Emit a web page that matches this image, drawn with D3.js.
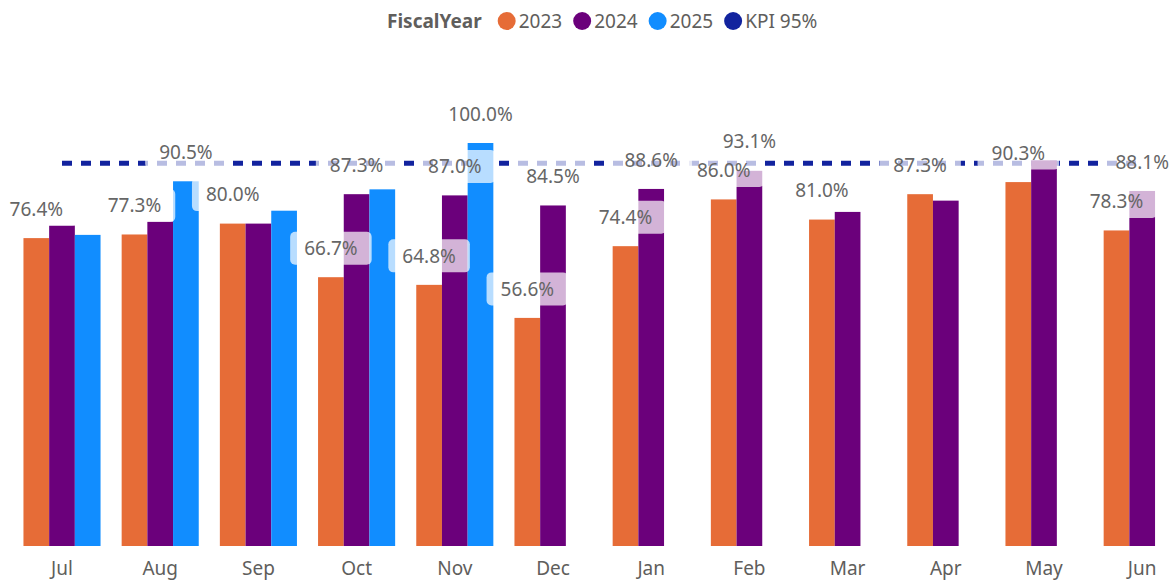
<!DOCTYPE html>
<html>
<head>
<meta charset="utf-8">
<script src="https://cdn.jsdelivr.net/npm/d3@7/dist/d3.min.js"></script>
<style>
    body { margin: 0; background: #fff; }
    text { font-family: "Noto Sans", "Open Sans", sans-serif; }
</style>
</head>
<body>
<div id="chart"></div>
<script>
// Compliance by month, clustered per fiscal year

var months = ["Jul", "Aug", "Sep", "Oct", "Nov", "Dec", "Jan", "Feb", "Mar", "Apr", "May", "Jun"];
var years = ["2023", "2024", "2025"];

var values2023 = [76.4, 77.3, 80.0, 66.7, 64.8, 56.6, 74.4, 86.0, 81.0, 87.3, 90.3, 78.3];
var values2024 = [79.5, 80.5, 80.0, 87.3, 87.0, 84.5, 88.6, 93.1, 82.9, 85.7, 95.7, 88.1];
var values2025 = [77.2, 90.5, 83.2, 88.5, 100.0, null, null, null, null, null, null, null];

var kpiValue = 95;

// data labels that survive Power BI's overlap hiding
var labelled2023 = months.slice();
var labelled2024 = ["Oct", "Nov", "Dec", "Jan", "Feb", "Jun"];
var labelled2025 = ["Aug", "Nov"];

var legendTitle = "FiscalYear";
var legendNames = ["2023", "2024", "2025", "KPI 95%"];
var legendColors = ["#E66C37", "#6B007B", "#118DFF", "#12239E"];

var width = 1173, height = 584;

var svg = d3.select("#chart").append("svg")
    .attr("width", width)
    .attr("height", height);

var seriesValues = [values2023, values2024, values2025];
var seriesLabels = [labelled2023, labelled2024, labelled2025];

var bars = [];
years.forEach(function(y, si) {
    months.forEach(function(m, mi) {
        var v = seriesValues[si][mi];
        if (v === null) return;
        bars.push({month: m, year: y, value: v, color: legendColors[si],
                   labelled: seriesLabels[si].indexOf(m) >= 0});
    });
});

// scales
var x = d3.scaleBand()
    .domain(months)
    .range([12.9, 1191.3])
    .paddingInner(0.215)
    .paddingOuter(0.1075);

var xSub = d3.scaleBand()
    .domain(years)
    .range([0, x.bandwidth()]);

var y = d3.scaleLinear()
    .domain([0, 100])
    .range([546, 143]);

// x axis
var xAxis = svg.append("g")
    .attr("transform", "translate(0,546)")
    .call(d3.axisBottom(x).tickSize(0).tickPadding(16));
xAxis.select(".domain").remove();
xAxis.selectAll("text")
    .style("font-family", "Noto Sans, sans-serif")
    .style("font-size", "19px")
    .attr("fill", "#605E5C");

// KPI line, category centre to category centre
var kpiLine = d3.line()
    .x(function(d) { return x(d) + x.bandwidth() / 2; })
    .y(function() { return y(kpiValue); });

svg.append("path")
    .datum(months)
    .attr("d", kpiLine)
    .attr("fill", "none")
    .attr("stroke", legendColors[3])
    .attr("stroke-width", 5)
    .attr("stroke-dasharray", "10,9");

// columns
svg.append("g").selectAll("rect")
    .data(bars)
    .enter().append("rect")
    .attr("x", function(d) { return x(d.month) + xSub(d.year); })
    .attr("y", function(d) { return y(d.value); })
    .attr("width", xSub.bandwidth())
    .attr("height", function(d) { return y(0) - y(d.value); })
    .attr("fill", function(d) { return d.color; });

// data labels with their translucent boxes
var lab = svg.append("g").selectAll("g.label")
    .data(bars.filter(function(d) { return d.labelled; }))
    .enter().append("g")
    .attr("class", "label")
    .attr("transform", function(d) {
        return "translate(" + (x(d.month) + xSub(d.year) + xSub.bandwidth() / 2) + "," + (y(d.value) - 29) + ")";
    });

lab.append("rect");

lab.append("text")
    .attr("text-anchor", "middle")
    .attr("dy", "0.35em")
    .style("font-size", "19px")
    .attr("fill", "#666666")
    .text(function(d) { return d.value.toFixed(1) + "%"; });

lab.each(function() {
    var g = d3.select(this);
    var w = g.select("text").node().getComputedTextLength() + 28;
    g.select("rect")
        .attr("x", -w / 2)
        .attr("y", -16.5)
        .attr("width", w)
        .attr("height", 33)
        .attr("rx", 5)
        .attr("fill", "#ffffff")
        .attr("fill-opacity", 0.7);
});

// legend
var legend = svg.append("g").attr("transform", "translate(387,21)");

var title = legend.append("text")
    .attr("dy", "0.35em")
    .style("font-size", "19px")
    .style("font-weight", "bold")
    .attr("fill", "#605E5C")
    .text(legendTitle);

var lx = title.node().getComputedTextLength() + 25;
legendNames.forEach(function(name, i) {
    legend.append("circle")
        .attr("cx", lx)
        .attr("cy", 0)
        .attr("r", 9)
        .attr("fill", legendColors[i]);
    var t = legend.append("text")
        .attr("x", lx + 12)
        .attr("dy", "0.35em")
        .style("font-size", "19px")
        .attr("fill", "#605E5C")
        .text(name);
    lx = lx + 12 + t.node().getComputedTextLength() + 20;
});
</script>
</body>
</html>
